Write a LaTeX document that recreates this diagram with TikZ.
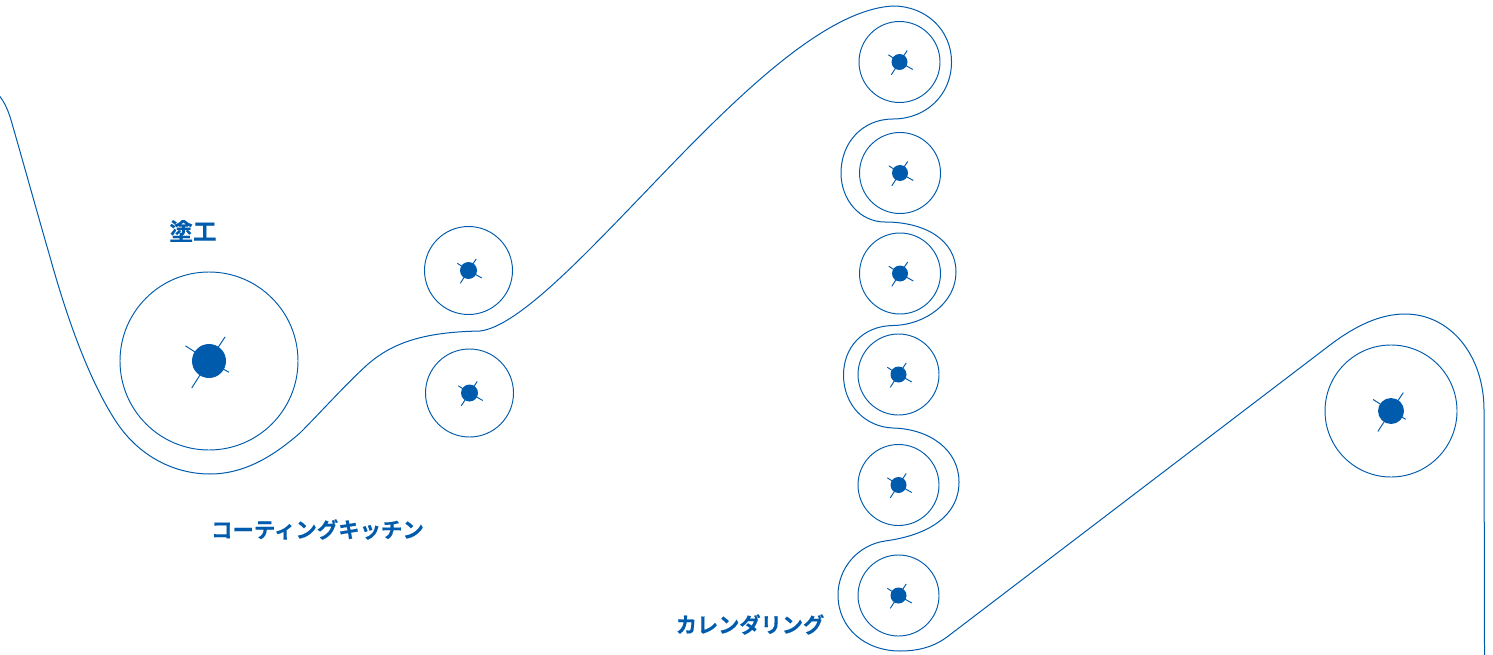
\documentclass[tikz,border=0pt]{standalone}
\usepackage{fontspec}
\newfontfamily\jpfont[FakeBold=0.4]{Noto Sans CJK JP Bold}
\definecolor{web}{HTML}{005BAC}
\tikzset{
  roller/.style={circle,draw=web,line width=0.95pt,inner sep=0pt,minimum size=#1},
  hub/.style={circle,fill=web,inner sep=0pt,minimum size=#1},
  tick/.style={draw=web,line width=0.95pt},
  webline/.style={draw=web,line width=1pt,line join=round},
  lab/.style={text=web,font=\jpfont\fontsize{#1}{22}\selectfont,inner sep=0pt,anchor=center}
}
% #1 name, #2 x, #3 y, #4 outer diameter, #5 hub diameter, #6 tick scale, #7 lower-right tick scale
\newcommand{\rollerat}[7]{%
  \draw[tick] (#2,#3) -- ++(#6*7.7,#6*-11.5);
  \draw[tick] (#2,#3) -- ++(#6*-8.2,#6*12.8);
  \draw[tick] (#2,#3) -- ++(#6*-11.2,#6*-7.2);
  \draw[tick] (#2,#3) -- ++(#7*13.3,#7*7.5);
  \node[roller=#4] (#1) at (#2,#3) {};
  \node[hub=#5] (#1hub) at (#2,#3) {};
}
\begin{document}
\begin{tikzpicture}[x=1pt,y=-1pt]
\useasboundingbox (0,0) rectangle (1493,655);
\rollerat{coat}{209}{361}{178}{34}{2.1}{1.5}
\rollerat{nipa}{468.5}{270.5}{88}{17}{1}{1}
\rollerat{nipb}{469.5}{393}{88}{17}{1}{1}
\rollerat{cala}{899.5}{62}{81}{16}{1}{1}
\rollerat{calb}{900}{173}{81}{16}{1}{1}
\rollerat{calc}{900}{273.5}{81}{16}{1}{1}
\rollerat{cald}{898.5}{374.5}{81}{16}{1}{1}
\rollerat{cale}{898.5}{485}{81}{16}{1}{1}
\rollerat{calf}{898.5}{595.5}{81}{16}{1}{1}
\rollerat{exit}{1391}{411}{132}{26}{1.6}{1.1}
\draw[webline] (0,96.5)
  .. controls (7,106) and (10,116) .. (13,127)
  .. controls (22,158) and (35,205) .. (50,257)
  .. controls (62,300) and (85,375) .. (117,423)
  .. controls (140,457) and (175,474) .. (210,474)
  .. controls (248,474) and (278,452) .. (300,433)
  .. controls (320,413) and (345,385) .. (367,365)
  .. controls (395,340) and (430,332) .. (480,331)
  .. controls (515,327) and (575,265) .. (630,208)
  .. controls (710,125) and (815,10) .. (893,6)
  .. controls (926,6) and (951.5,30) .. (951.5,62)
  .. controls (951.5,95) and (926,119) .. (893,119)
  .. controls (862,119) and (841,143) .. (841,173)
  .. controls (841,200) and (860,222) .. (885,222)
  .. controls (925,222) and (956,240) .. (956,272)
  .. controls (956,303) and (925,325) .. (893,325.5)
  .. controls (862,326) and (843.5,348) .. (843.5,375)
  .. controls (843.5,405) and (865,427) .. (893,428)
  .. controls (930,429) and (959,450) .. (959,482)
  .. controls (959,515) and (930,535) .. (885,541)
  .. controls (858,545) and (838,568) .. (838,595)
  .. controls (838,628) and (865,651) .. (900,651)
  .. controls (920,651) and (935,646) .. (947,637)
  -- (1330,345)
  .. controls (1355,326) and (1380,314) .. (1405,314)
  .. controls (1450,314) and (1484,355) .. (1484,410)
  -- (1484.5,655);
\node[lab=23.6] (t1) at (193,231) {塗工};
\node[lab=21.4] (t2) at (317.5,529.5) {コーティングキッチン};
\node[lab=21.2] (t3) at (750,624.5) {カレンダリング};
\end{tikzpicture}
\end{document}
